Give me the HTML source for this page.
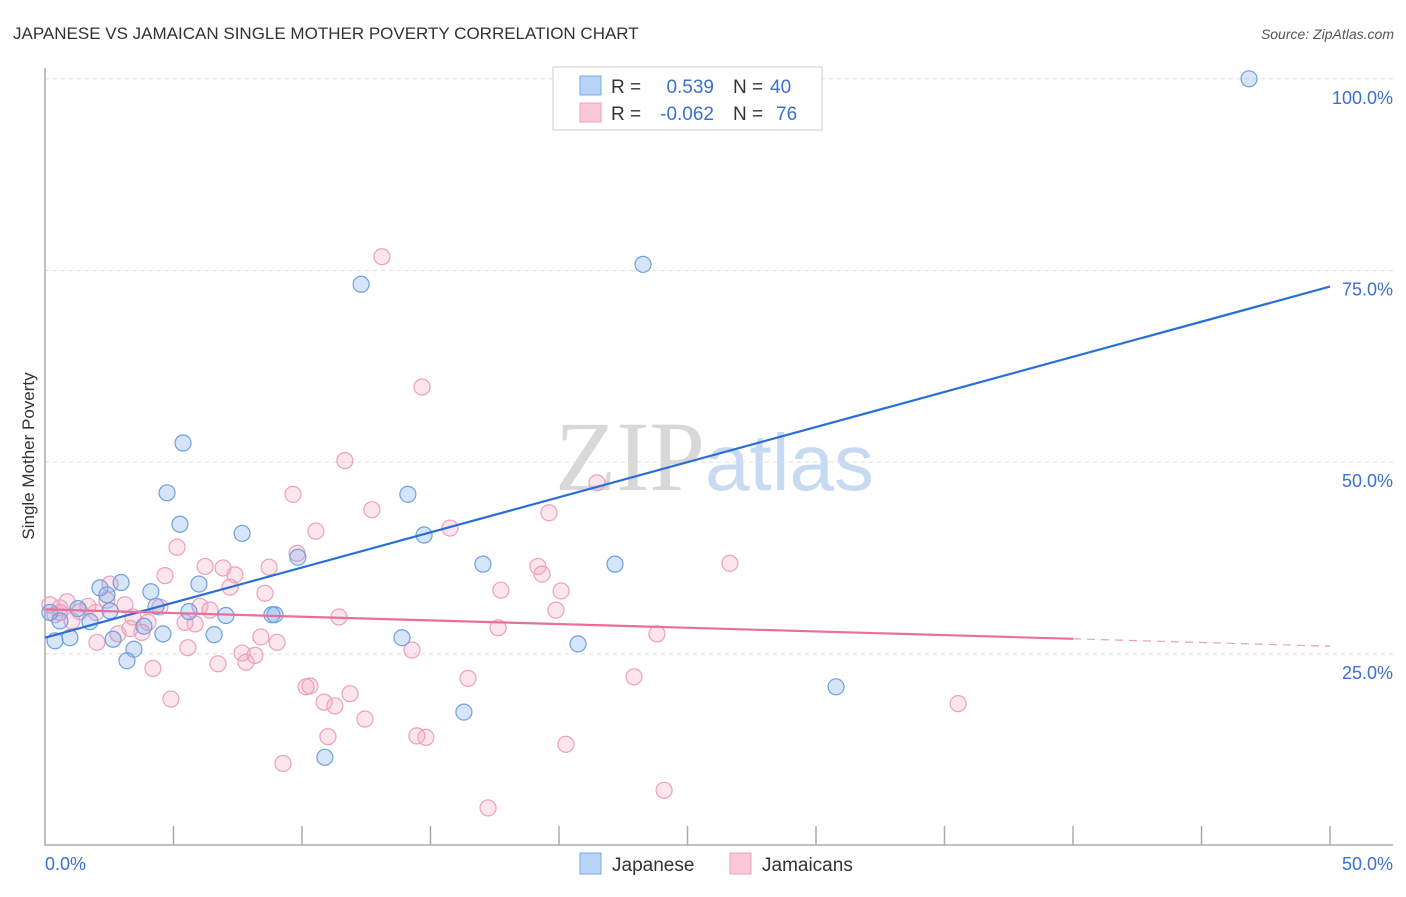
<!DOCTYPE html>
<html><head><meta charset="utf-8"><style>
body{margin:0;background:#fff;font-family:"Liberation Sans",sans-serif;}
svg text{font-family:"Liberation Sans",sans-serif;}
</style></head><body>
<svg id="chart" width="1406" height="892" xmlns="http://www.w3.org/2000/svg">
<text x="13" y="39" font-size="17" fill="#333">JAPANESE VS JAMAICAN SINGLE MOTHER POVERTY CORRELATION CHART</text>
<text x="1394" y="39" font-size="14" fill="#555" font-style="italic" text-anchor="end">Source: ZipAtlas.com</text>
<text x="555" y="490" font-size="100"><tspan fill="#d8d8d8" font-family="Liberation Serif">ZIP</tspan><tspan fill="#c8daf2" font-size="80">atlas</tspan></text>
<text transform="translate(34,456) rotate(-90)" font-size="17" fill="#333" text-anchor="middle">Single Mother Poverty</text>
<g id="grid"></g><g id="axes"></g><g id="marks"></g>
<g>
<rect x="553" y="67" width="269" height="63" fill="#fff" stroke="#ccc"/>
<rect x="580" y="76" width="21" height="19" fill="#b8d4f6" stroke="#7aa8e8"/>
<rect x="580" y="103" width="21" height="19" fill="#fac8d8" stroke="#eea0b8"/>
<text x="611" y="93" font-size="19" fill="#333">R =</text>
<text x="714" y="93" font-size="19" fill="#3a70d0" text-anchor="end">0.539</text>
<text x="733" y="93" font-size="19" fill="#333">N =</text>
<text x="770" y="93" font-size="19" fill="#3a70d0">40</text>
<text x="611" y="120" font-size="19" fill="#333">R =</text>
<text x="714" y="120" font-size="19" fill="#3a70d0" text-anchor="end">-0.062</text>
<text x="733" y="120" font-size="19" fill="#333">N =</text>
<text x="776" y="120" font-size="19" fill="#3a70d0">76</text>
</g>
<g>
<rect x="580" y="853" width="21" height="21" fill="#b8d4f6" stroke="#7aa8e8"/>
<text x="612" y="871" font-size="19" fill="#333">Japanese</text>
<rect x="730" y="853" width="21" height="21" fill="#fac8d8" stroke="#eea0b8"/>
<text x="762" y="871" font-size="19" fill="#333">Jamaicans</text>
</g>
</svg>
<script>
const yTicks=[25,50,75,100];
const yTickLabels=["25.0%","50.0%","75.0%","100.0%"];
const xTickLabels=["0.0%","50.0%"];
const japX=[46.85,23.27,12.30,5.37,4.75,14.12,5.25,7.67,14.75,9.84,17.04,22.18,2.96,2.14,4.12,5.99,2.41,4.32,5.60,8.83,8.95,7.04,1.28,2.53,1.75,0.58,0.19,3.85,4.59,6.58,2.65,0.97,0.39,13.89,20.74,3.46,3.19,30.78,16.30,10.89];
const japY=[100,75.8,73.2,52.5,46.0,45.8,41.9,40.7,40.5,37.6,36.7,36.7,34.3,33.6,33.1,34.1,32.7,31.2,30.5,30.1,30.1,30.0,30.9,30.6,29.2,29.3,30.4,28.6,27.6,27.5,26.9,27.1,26.7,27.1,26.3,25.6,24.1,20.7,17.4,11.5];
const jamX=[13.11,14.67,11.67,9.65,21.48,12.72,19.61,10.54,15.76,5.14,9.81,19.18,26.65,6.23,6.93,4.67,7.39,19.34,8.72,2.53,7.20,17.74,20.08,8.56,2.41,0.86,0.19,0.58,3.11,4.47,6.03,6.42,1.36,1.98,0.39,3.42,4.01,5.45,5.84,11.44,19.88,3.31,3.77,17.63,23.81,2.84,2.02,8.40,9.03,5.56,14.28,7.67,8.17,7.82,6.73,4.20,16.46,22.92,10.16,10.31,11.87,10.86,11.28,4.90,35.53,12.45,11.01,14.47,14.82,20.27,9.26,24.09,17.24,0.58,1.67,1.05];
const jamY=[76.8,59.8,50.2,45.8,47.3,43.8,43.4,41.0,41.4,38.9,38.1,36.4,36.8,36.4,36.2,35.2,35.3,35.4,36.3,34.1,33.7,33.3,33.2,32.9,32.0,31.8,31.4,31.0,31.4,31.1,31.2,30.7,30.5,30.4,30.1,29.8,29.1,29.1,28.9,29.8,30.7,28.3,27.8,28.4,27.6,27.6,26.5,27.2,26.5,25.8,25.5,25.1,24.8,23.9,23.7,23.1,21.8,22.0,20.7,20.8,19.8,18.7,18.2,19.1,18.5,16.5,14.2,14.3,14.1,13.2,10.7,7.2,4.9,30.4,31.2,29.3];
const japLine=[27.1,72.9];
const jamLine=[30.8,26.0];
const jamSolidEnd=40;

const X=v=>45+v*25.7;
const Y=v=>845.5-v*7.667;
const NS="http://www.w3.org/2000/svg";
function mk(tag,attrs,parent){const e=document.createElementNS(NS,tag);for(const k in attrs)e.setAttribute(k,attrs[k]);parent.appendChild(e);return e;}
const grid=document.getElementById('grid'),axes=document.getElementById('axes'),marks=document.getElementById('marks');
yTicks.forEach((t,i)=>{
  const l=mk('line',{x1:45,x2:1393,y1:Y(t),y2:Y(t),stroke:'#ddd','stroke-dasharray':'4,4'},grid);
  
  
  const tx=mk('text',{x:1393,y:Y(t)+25,'font-size':18,fill:'#3a70d0','text-anchor':'end'},axes);
  tx.textContent=yTickLabels[i];
  
  
});
const ax=mk('path',{d:'M45,68 V845 H1393',fill:'none',stroke:'#aaa','stroke-width':1.5},axes);


for(let i=1;i<=10;i++){
  const tk=mk('line',{x1:X(i*5),x2:X(i*5),y1:826,y2:845,stroke:'#aaa','stroke-width':1.5},axes);
  
  
}
const xl0=mk('text',{x:45,y:870,'font-size':18,fill:'#3a70d0'},axes);xl0.textContent=xTickLabels[0];


const xl1=mk('text',{x:1393,y:870,'font-size':18,fill:'#3a70d0','text-anchor':'end'},axes);xl1.textContent=xTickLabels[1];



jamX.forEach((v,i)=>{
  const c=mk('circle',{cx:X(v),cy:Y(jamY[i]),r:8,fill:'rgba(244,160,190,0.28)',stroke:'#eea0b8','stroke-width':1.2},marks);
  
  
});
japX.forEach((v,i)=>{
  const c=mk('circle',{cx:X(v),cy:Y(japY[i]),r:8,fill:'rgba(120,170,235,0.3)',stroke:'#6fa0e0','stroke-width':1.2},marks);
  
  
});
const bl=mk('line',{x1:X(0),y1:Y(japLine[0]),x2:X(50),y2:Y(japLine[1]),stroke:'#2a6fd6','stroke-width':2.2},marks);


const jy=x=>jamLine[0]+(jamLine[1]-jamLine[0])*x/50;
const pl=mk('line',{x1:X(0),y1:Y(jy(0)),x2:X(jamSolidEnd),y2:Y(jy(jamSolidEnd)),stroke:'#e8709a','stroke-width':2.2},marks);


const pd=mk('line',{x1:X(jamSolidEnd),y1:Y(jy(jamSolidEnd)),x2:X(50),y2:Y(jy(50)),stroke:'#e8a0b8','stroke-width':1.2,'stroke-dasharray':'8,6'},marks);


</script>
</body></html>
